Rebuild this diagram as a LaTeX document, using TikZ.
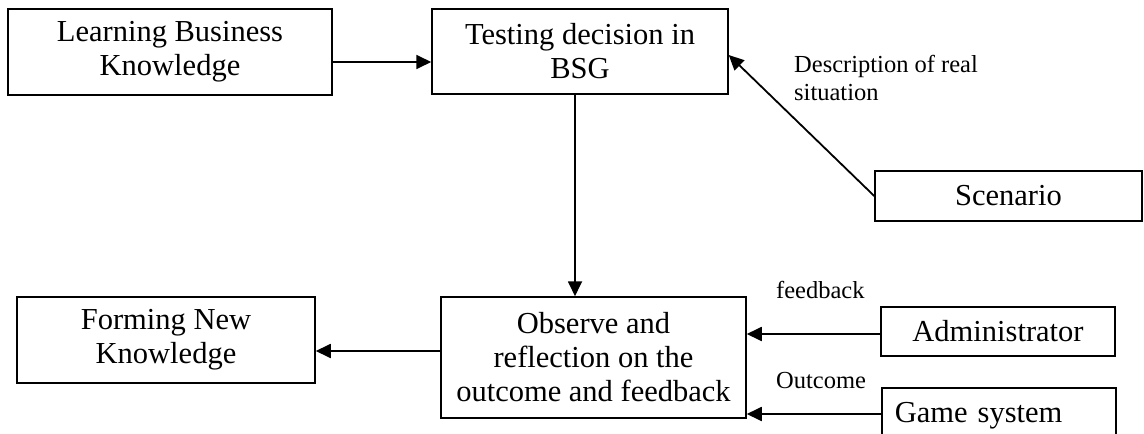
\documentclass[tikz,border=0pt]{standalone}
\usepackage{fontspec}
\setmainfont{Liberation Serif}
\usetikzlibrary{arrows.meta,calc}
\newcommand\boxfont{\fontsize{30.5}{34}\selectfont}
\newcommand\lblfont{\fontsize{24.5}{27.5}\selectfont}
\begin{document}
\begin{tikzpicture}[x=1pt,y=-1pt,
  box/.style={draw, line width=1.5pt, inner sep=0pt, align=center, font=\boxfont},
  arr/.style={-{Triangle[length=15pt,width=14pt]}, line width=1.8pt},
  lbl/.style={font=\lblfont, inner sep=0pt, align=left, anchor=base west}]
\useasboundingbox (0,0) rectangle (1144,434);
\clip (0,0) rectangle (1144,434);

% boxes
\node[box, minimum width=324pt, minimum height=86pt] (learn) at (170,52) {Learning Business\\Knowledge};
\node[box, minimum width=296pt, minimum height=85pt] (test) at (580,51.5) {Testing decision in\\BSG};
\node[box, minimum width=267pt, minimum height=50pt] (scen) at (1008.5,196) {Scenario};
\node[box, minimum width=298pt, minimum height=86pt] (form) at (166,340) {Forming New\\Knowledge};
\node[box, minimum width=305pt, minimum height=121pt] (obs) at (593.5,357.5) {Observe and\\reflection on the\\outcome and feedback};
\node[box, minimum width=234pt, minimum height=49pt] (adm) at (998,331.5) {Administrator};
\node[box, anchor=north west, align=left, text width=208pt, inner xsep=13pt, inner ysep=0pt,
      text height=35pt, text depth=45pt] (game) at (881,387) {Game system};

% labels (a multi-line node sits on the baseline of its last line)
\node[lbl] (ldesc) at (794,100) {Description of real\\situation};
\node[lbl] (lfb) at (776,298) {feedback};
\node[lbl] (lout) at (776,388) {Outcome};

% connectors
\draw[arr] ($(learn.east)+(0,10)$) coordinate (a1) -- (a1 -| test.west);
\draw[arr] ($(test.south)+(-5,0)$) coordinate (a2) -- (a2 |- obs.north);
\draw[arr] (scen.west) -- ($(test.east)+(0,3.5)$);
\draw[arr] ($(obs.west)+(0,-6.5)$) coordinate (a3) -- (a3 -| form.east);
\draw[arr] ($(adm.west)+(0,2.5)$) coordinate (a5) -- (a5 -| obs.east);
\draw[arr] ($(game.north west)+(0,27)$) coordinate (a4) -- (a4 -| obs.east);
\end{tikzpicture}
\end{document}
